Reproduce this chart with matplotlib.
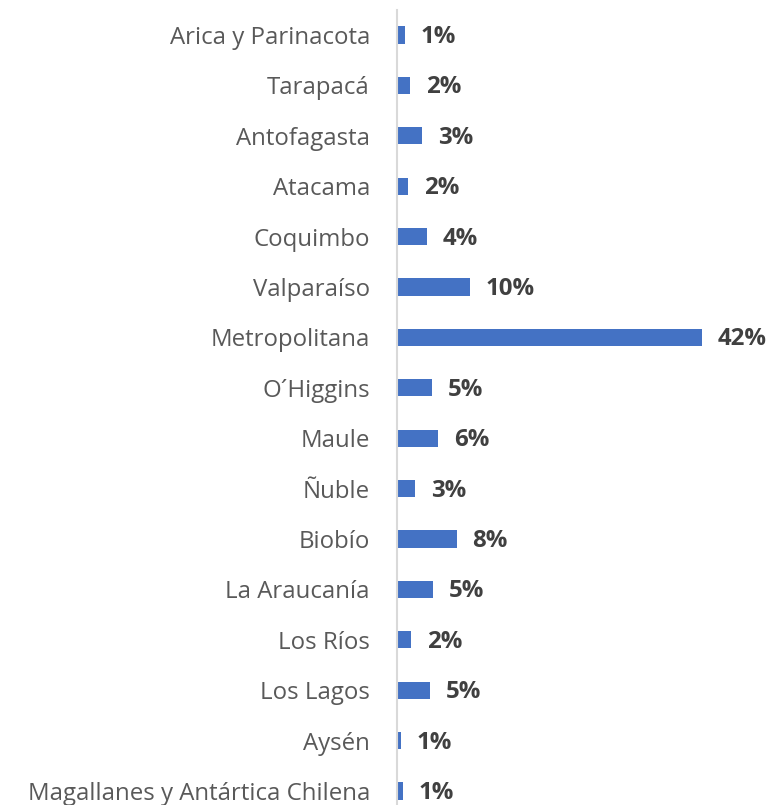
import matplotlib.pyplot as plt

regions = [
    "Arica y Parinacota", "Tarapacá", "Antofagasta", "Atacama", "Coquimbo",
    "Valparaíso", "Metropolitana", "O´Higgins", "Maule", "Ñuble", "Biobío",
    "La Araucanía", "Los Ríos", "Los Lagos", "Aysén",
    "Magallanes y Antártica Chilena",
]
shares = [1.1, 1.8, 3.4, 1.5, 4.1, 10.0, 42.0, 4.8, 5.6, 2.5, 8.2,
          4.9, 1.9, 4.5, 0.5, 0.8]
share_labels = ["1%", "2%", "3%", "2%", "4%", "10%", "42%", "5%", "6%", "3%",
                "8%", "5%", "2%", "5%", "1%", "1%"]

plt.rcParams["font.family"] = ["Open Sans", "DejaVu Sans"]

fig = plt.figure(figsize=(7.71, 8.05), dpi=100)
ax = fig.add_axes([397 / 771, 0.0, 1 - 397 / 771, (805 - 9.8) / 805])

y = list(range(len(regions)))
ax.barh(y, shares, height=0.34, color="#4472C4", zorder=2)
ax.set_ylim(15 + 14 / 50.4, -0.5)
ax.set_xlim(0, 374 / 7.26)

for yi, v, lab in zip(y, shares, share_labels):
    ax.annotate(lab, (v, yi), xytext=(16, -2), textcoords="offset pixels",
                va="center", ha="left", fontsize=17.3, fontweight="bold",
                color="#404040")

ax.set_yticks(y)
ax.set_yticklabels(regions, fontsize=17.3, color="#595959")
ax.tick_params(axis="y", length=0, pad=19.5)
ax.set_xticks([])
for s in ["top", "right", "bottom"]:
    ax.spines[s].set_visible(False)
ax.spines["left"].set_color("#d9d9d9")
ax.spines["left"].set_linewidth(1.5)

fig.savefig("out.png", dpi=100)
